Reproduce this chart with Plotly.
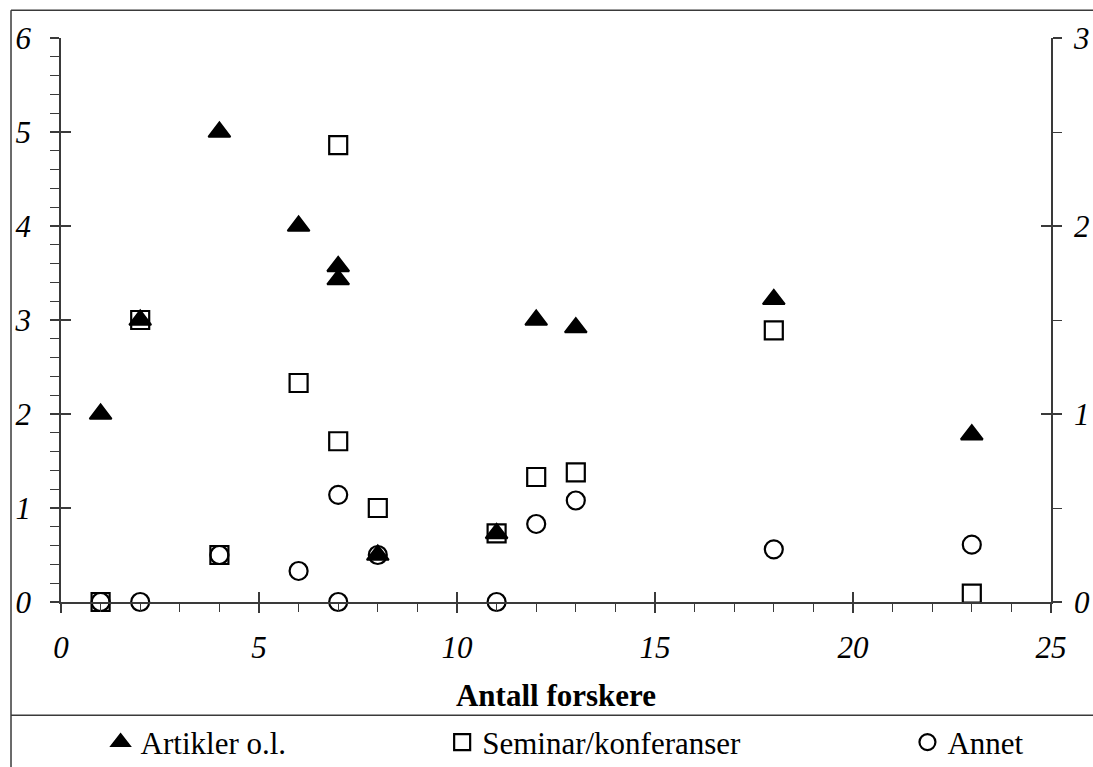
import plotly.graph_objects as go

# ---- data ----
forskere_art = [1, 2, 4, 6, 7, 7, 8, 11, 12, 13, 18, 23]
artikler = [2.0, 3.0, 5.0, 4.0, 3.57, 3.43, 0.5, 0.73, 3.0, 2.92, 3.22, 1.78]

forskere_sem = [1, 2, 4, 6, 7, 7, 8, 11, 12, 13, 18, 23]
seminar = [0.0, 3.0, 0.5, 2.33, 4.86, 1.71, 1.0, 0.73, 1.33, 1.38, 2.89, 0.09]

forskere_ann = [1, 2, 4, 6, 7, 7, 8, 11, 12, 13, 18, 23]
annet = [0.0, 0.0, 0.5, 0.33, 1.14, 0.0, 0.5, 0.0, 0.83, 1.08, 0.56, 0.61]

series_names = ["Artikler o.l.", "Seminar/konferanser", "Annet"]
x_title = "Antall forskere"
x_range = [0, 25]
y_left_range = [0, 6]
y_right_range = [0, 3]

FONT = "Liberation Serif, Times New Roman, serif"
AX = "#3a3a3a"
FS = 31

fig = go.Figure()

fig.add_trace(go.Scatter(
    x=forskere_art, y=artikler, mode="markers", name=series_names[0],
    marker=dict(symbol="triangle-up", size=19, color="black",
                line=dict(color="black", width=2)),
    cliponaxis=False, legend="legend"))
fig.add_trace(go.Scatter(
    x=forskere_sem, y=seminar, mode="markers", name=series_names[1],
    marker=dict(symbol="square-open", size=18, color="black",
                line=dict(color="black", width=2.2)),
    cliponaxis=False, legend="legend2"))
fig.add_trace(go.Scatter(
    x=forskere_ann, y=annet, mode="markers", name=series_names[2],
    marker=dict(symbol="circle-open", size=18, color="black",
                line=dict(color="black", width=2.2)),
    cliponaxis=False, legend="legend3"))

# empty helper traces so overlay axes (crossing tick halves, right axis) are drawn
fig.add_trace(go.Scatter(x=[], y=[], xaxis="x2", yaxis="y2", showlegend=False))
fig.add_trace(go.Scatter(x=[], y=[], xaxis="x", yaxis="y3", showlegend=False))
fig.add_trace(go.Scatter(x=[], y=[], xaxis="x", yaxis="y4", showlegend=False))

tickfont = dict(family=FONT, size=FS, color="black", style="italic")

leg = dict(y=-0.249, xanchor="left", yanchor="middle", orientation="h",
           font=dict(family=FONT, size=FS, color="black"),
           bgcolor="rgba(0,0,0,0)", itemwidth=30)

fig.update_layout(
    width=1093, height=767,
    margin=dict(l=61, r=42, t=38, b=165, autoexpand=False),
    showlegend=True,
    paper_bgcolor="white", plot_bgcolor="white",
    font=dict(family=FONT, size=FS, color="black"),
    xaxis=dict(range=x_range, showgrid=False, zeroline=False, automargin=False,
               showline=True, linecolor=AX, linewidth=1.5,
               ticks="outside", ticklen=9, tickwidth=1.5, tickcolor=AX,
               dtick=5, tick0=0, tickfont=tickfont, ticklabelstandoff=8,
               minor=dict(ticks="outside", dtick=1, ticklen=8, tickwidth=1.2,
                          tickcolor=AX, showgrid=False),
               title=dict(text="<b>" + x_title + "</b>",
                          font=dict(family=FONT, size=FS, color="black"),
                          standoff=20)),
    xaxis2=dict(range=x_range, overlaying="x", anchor="y", side="bottom",
                showgrid=False, zeroline=False, showline=False, automargin=False,
                ticks="inside", ticklen=10, tickwidth=1.5, tickcolor=AX,
                dtick=5, tick0=0, showticklabels=False),
    yaxis=dict(range=y_left_range, showgrid=False, zeroline=False, automargin=False,
               showline=True, linecolor=AX, linewidth=1.5,
               ticks="outside", ticklen=9, tickwidth=1.5, tickcolor=AX,
               dtick=1, tick0=0, tickfont=tickfont, ticklabelstandoff=13,
               minor=dict(ticks="outside", dtick=0.2, ticklen=9, tickwidth=1.2,
                          tickcolor=AX, showgrid=False)),
    yaxis2=dict(range=y_left_range, overlaying="y", anchor="x", side="left",
                showgrid=False, zeroline=False, showline=False, automargin=False,
                ticks="inside", ticklen=10, tickwidth=1.5, tickcolor=AX,
                dtick=1, tick0=0, showticklabels=False),
    yaxis3=dict(range=y_right_range, overlaying="y", anchor="x", side="right",
                showgrid=False, zeroline=False, automargin=False,
                showline=True, linecolor=AX, linewidth=1.5,
                ticks="outside", ticklen=9, tickwidth=1.5, tickcolor=AX,
                dtick=1, tick0=0, tickfont=tickfont, ticklabelstandoff=6,
                minor=dict(ticks="outside", dtick=0.5, ticklen=9, tickwidth=1.2,
                           tickcolor=AX, showgrid=False)),
    yaxis4=dict(range=y_right_range, overlaying="y", anchor="x", side="right",
                showgrid=False, zeroline=False, showline=False, automargin=False,
                ticks="inside", ticklen=10, tickwidth=1.5, tickcolor=AX,
                dtick=1, tick0=0, showticklabels=False),
    legend=dict(x=0.04, **leg),
    legend2=dict(x=0.385, **leg),
    legend3=dict(x=0.855, **leg),
)

# chart frame (decoration): top line, left line, legend separator
frame = dict(type="line", xref="paper", yref="paper",
             line=dict(color=AX, width=1.5), layer="above")
fig.add_shape(x0=-0.0505, x1=1.05, y0=1.0491, y1=1.0491, **frame)
fig.add_shape(x0=-0.0505, x1=-0.0505, y0=1.0491, y1=-0.31, **frame)
fig.add_shape(x0=-0.0505, x1=1.05, y0=-0.2009, y1=-0.2009, **frame)

fig.write_html(
    "out.html",
    config={"displayModeBar": False},
    post_script="document.body.style.margin='0';document.body.style.overflow='hidden';",
)
